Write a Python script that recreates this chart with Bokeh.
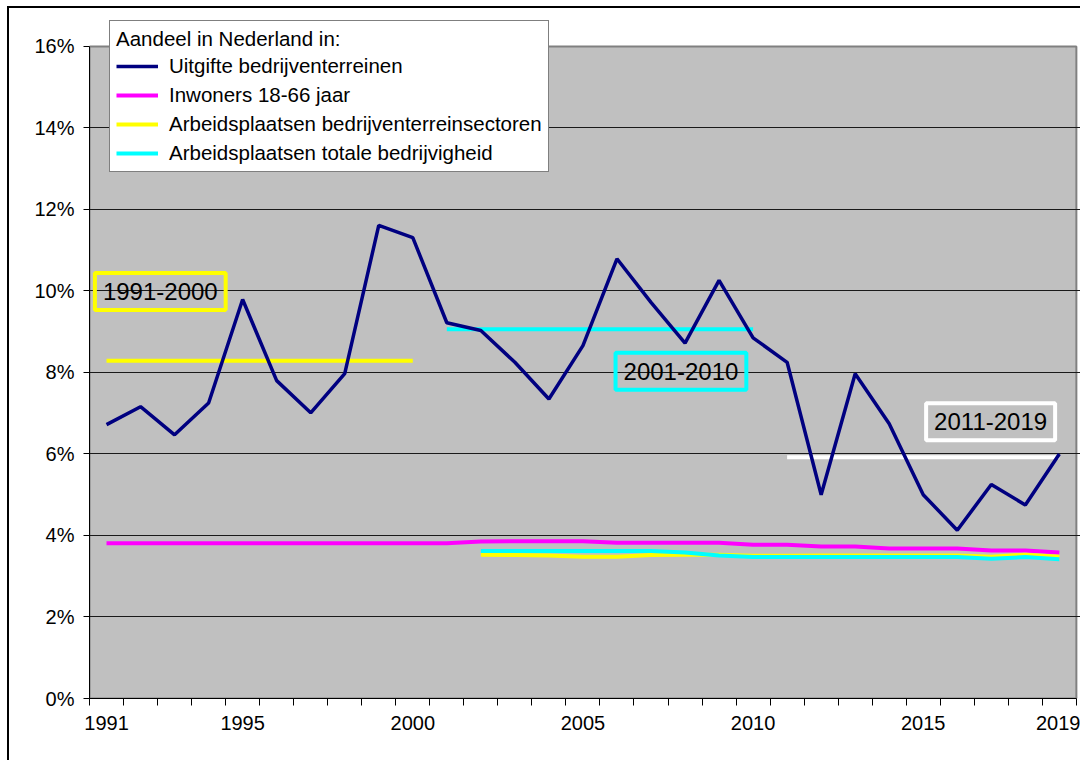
from bokeh.plotting import figure
from bokeh.models import (ColumnDataSource, FixedTicker, PrintfTickFormatter,
                          Legend, LegendItem, Label, Range1d)
from bokeh.embed import file_html
from bokeh.resources import INLINE

# ---------------- data ----------------
years = [1991, 1992, 1993, 1994, 1995, 1996, 1997, 1998, 1999, 2000,
         2001, 2002, 2003, 2004, 2005, 2006, 2007, 2008, 2009, 2010,
         2011, 2012, 2013, 2014, 2015, 2016, 2017, 2018, 2019]
uitgifte = [6.72, 7.16, 6.47, 7.25, 9.79, 7.80, 7.01, 7.97, 11.61, 11.31,
            9.22, 9.03, 8.25, 7.35, 8.66, 10.79, 9.72, 8.72, 10.26, 8.85,
            8.25, 5.00, 7.97, 6.74, 5.00, 4.13, 5.25, 4.75, 6.00]
inwoners = [3.81, 3.81, 3.81, 3.81, 3.81, 3.81, 3.81, 3.81, 3.81, 3.81,
            3.81, 3.85, 3.86, 3.86, 3.86, 3.82, 3.82, 3.82, 3.82, 3.77,
            3.77, 3.73, 3.73, 3.68, 3.68, 3.68, 3.63, 3.63, 3.58]
years_arb = [2002, 2003, 2004, 2005, 2006, 2007, 2008, 2009, 2010,
             2011, 2012, 2013, 2014, 2015, 2016, 2017, 2018, 2019]
arb_sectoren = [3.53, 3.52, 3.51, 3.48, 3.48, 3.52, 3.53, 3.53, 3.50,
                3.50, 3.51, 3.51, 3.51, 3.51, 3.51, 3.48, 3.53, 3.48]
arb_totaal = [3.62, 3.62, 3.62, 3.62, 3.62, 3.62, 3.58, 3.51, 3.47,
              3.47, 3.47, 3.47, 3.47, 3.47, 3.47, 3.43, 3.47, 3.42]

period_labels = ["1991-2000", "2001-2010", "2011-2019"]
period_start = [1991, 2001, 2011]
period_end = [2000, 2010, 2019]
period_avg = [8.29, 9.06, 5.92]
period_colors = ["#FFFF00", "#00FFFF", "#FFFFFF"]

xtick_years = [1991, 1995, 2000, 2005, 2010, 2015, 2019]
ytick_values = [0, 2, 4, 6, 8, 10, 12, 14, 16]

series_names = ["Uitgifte bedrijventerreinen", "Inwoners 18-66 jaar",
                "Arbeidsplaatsen bedrijventerreinsectoren",
                "Arbeidsplaatsen totale bedrijvigheid"]
legend_title = "Aandeel in Nederland in:"

FONT = "Liberation Sans"
X_LO, X_HI = years[0] - 0.5, years[-1] + 0.5
Y_LO, Y_HI = ytick_values[0], ytick_values[-1]

# ---------------- figure ----------------
p = figure(width=1073, height=754, output_backend="svg", toolbar_location=None,
           x_range=Range1d(X_LO, 2019.68), y_range=Range1d(Y_LO, 16.76),
           min_border_left=80, min_border_top=7, min_border_right=0,
           min_border_bottom=64,
           styles={"margin-left": "7px", "margin-top": "6px",
                   "border-left": "2px solid #000000",
                   "border-top": "2px solid #000000"})
p.background_fill_color = "#FFFFFF"
p.border_fill_color = "#FFFFFF"
p.outline_line_color = None

# plot area (grey) with grey edge
p.quad(left=[X_LO], right=[X_HI], bottom=[Y_LO], top=[Y_HI],
       fill_color="#C0C0C0", line_color="#808080", line_width=2, level="image")

p.xgrid.visible = False
p.ygrid.ticker = FixedTicker(ticks=ytick_values[1:-1])
p.ygrid.grid_line_color = "#1a1a1a"
p.ygrid.grid_line_width = 1

xa = p.xaxis[0]
xa.bounds = (X_LO, X_HI)
xa.ticker = FixedTicker(ticks=xtick_years,
                        minor_ticks=[y - 0.5 for y in years] + [X_HI])
xa.formatter = PrintfTickFormatter(format="%d")
xa.major_tick_in = 0
xa.major_tick_out = 0
xa.minor_tick_in = 0
xa.minor_tick_out = 7
xa.minor_tick_line_color = "#000000"
xa.axis_line_color = "#000000"
xa.major_label_standoff = 10
xa.major_label_text_font = FONT
xa.major_label_text_font_size = "20px"
xa.major_label_text_color = "#000000"

ya = p.yaxis[0]
ya.bounds = (Y_LO, Y_HI)
ya.ticker = FixedTicker(ticks=ytick_values, minor_ticks=[])
ya.formatter = PrintfTickFormatter(format="%d%%")
ya.major_tick_in = 0
ya.major_tick_out = 6
ya.major_tick_line_color = "#000000"
ya.axis_line_color = "#000000"
ya.major_label_standoff = 9
ya.major_label_text_font = FONT
ya.major_label_text_font_size = "20px"
ya.major_label_text_color = "#000000"

# ---------------- series ----------------
src_all = ColumnDataSource(dict(x=years, u=uitgifte, i=inwoners))
src_arb = ColumnDataSource(dict(x=years_arb, s=arb_sectoren, t=arb_totaal))

r_inw = p.line("x", "i", source=src_all, line_color="#FF00FF", line_width=4)
r_sec = p.line("x", "s", source=src_arb, line_color="#FFFF00", line_width=4)
r_tot = p.line("x", "t", source=src_arb, line_color="#00FFFF", line_width=4)

# period averages
p.segment(x0=period_start, y0=period_avg, x1=period_end, y1=period_avg,
          line_color=period_colors, line_width=4)

r_uit = p.line("x", "u", source=src_all, line_color="#000080", line_width=3.5)

# period labels
label_pos = [(1992.58, 9.99), (2007.88, 8.03), (2016.98, 6.79)]
for txt, col, (lx, ly) in zip(period_labels, period_colors, label_pos):
    p.add_layout(Label(x=lx, y=ly, text=txt, text_align="center",
                       text_baseline="middle", text_font=FONT,
                       text_font_size="24px", text_color="#000000",
                       border_line_color=col, border_line_width=4,
                       background_fill_color=None,
                       padding=dict(left=8, right=8, top=10, bottom=10)))

# ---------------- legend ----------------
legend = Legend(items=[LegendItem(label=series_names[0], renderers=[r_uit]),
                       LegendItem(label=series_names[1], renderers=[r_inw]),
                       LegendItem(label=series_names[2], renderers=[r_sec]),
                       LegendItem(label=series_names[3], renderers=[r_tot])],
                location=(20, 526), title=legend_title,
                orientation="vertical")
legend.title_text_font = FONT
legend.title_text_font_size = "20.5px"
legend.title_text_font_style = "normal"
legend.title_text_color = "#000000"
legend.title_standoff = 3
legend.label_text_font = FONT
legend.label_text_font_size = "20.5px"
legend.label_text_color = "#000000"
legend.label_standoff = 11
legend.glyph_width = 42
legend.glyph_height = 20
legend.label_height = 20
legend.spacing = 5
legend.padding = 6
legend.margin = 0
legend.border_line_color = "#000000"
legend.border_line_width = 1
legend.background_fill_color = "#FFFFFF"
legend.background_fill_alpha = 1.0
p.add_layout(legend, "center")

open("out.html", "w").write(file_html(p, INLINE))
